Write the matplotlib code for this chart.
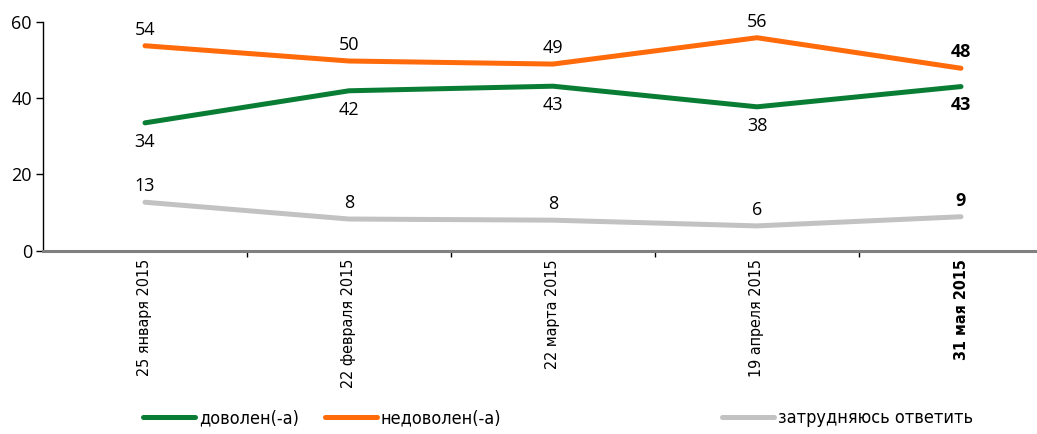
import matplotlib.pyplot as plt
import numpy as np

#Data
dates = ["25 января 2015", "22 февраля 2015", "22 марта 2015", "19 апреля 2015", "31 мая 2015"]
satisfied = [33.5, 41.9, 43.1, 37.7, 43.0]
satisfied_labels = ["34", "42", "43", "38", "43"]
unsatisfied = [53.7, 49.7, 48.9, 55.8, 47.8]
unsatisfied_labels = ["54", "50", "49", "56", "48"]
unsure = [12.7, 8.3, 8.0, 6.5, 8.9]
unsure_labels = ["13", "8", "8", "6", "9"]
series_names = ["доволен(-а)", "недоволен(-а)", "затрудняюсь ответить"]

green = "#0a7d35"
orange = "#ff6a0a"
grey = "#c2c2c2"
num_font = "Open Sans"
txt_font = ["Liberation Sans Narrow", "DejaVu Sans"]

fig = plt.figure(figsize=(10.37, 4.34), dpi=100)
ax = fig.add_axes([43/1037, 1 - 250.7/434, 1020/1037, (250.7 - 21.7)/434])
x = np.arange(len(dates))

lines = []
for vals, labs, col, above in [(satisfied, satisfied_labels, green, False),
                               (unsatisfied, unsatisfied_labels, orange, True),
                               (unsure, unsure_labels, grey, True)]:
    ln, = ax.plot(x, vals, color=col, linewidth=3.6, solid_capstyle="round")
    lines.append(ln)
    for i, (v, s) in enumerate(zip(vals, labs)):
        last = i == len(vals) - 1
        ax.annotate(s, (i, v), xytext=(0, 5 if above else -7), textcoords="offset points",
                    ha="center", va="bottom" if above else "top", fontsize=13,
                    family=num_font, fontweight="bold" if last else "normal")

#Axes styling
ax.set_xlim(-0.5, 4.5)
ax.set_ylim(0, 60)
ax.set_yticks([0, 20, 40, 60])
ax.set_yticklabels(["0", "20", "40", "60"], family=num_font, fontsize=13)
ax.tick_params(axis="y", direction="out", length=5, width=1, pad=3)
ax.set_xticks(x)
ax.set_xticklabels(dates, rotation=90, va="top", ha="center", family=txt_font,
                   fontstretch="condensed", fontsize=11.5)
ax.get_xticklabels()[-1].set_fontweight("bold")
ax.set_xticks(np.arange(0.5, 4.5, 1), minor=True)
ax.tick_params(axis="x", which="major", length=0, pad=6)
ax.tick_params(axis="x", which="minor", direction="out", length=4, width=1, color="black")
for s in ["top", "right"]:
    ax.spines[s].set_visible(False)
ax.spines["left"].set_color("black")
ax.spines["left"].set_linewidth(1)
ax.spines["bottom"].set_color("#808080")
ax.spines["bottom"].set_linewidth(2.2)

#Legend, three separate entries
positions = [143/1037, 325/1037, 722/1037]
for ln, name, px in zip(lines, series_names, positions):
    leg = fig.legend([ln], [name], loc="center left", bbox_to_anchor=(px, 1 - 418/434),
                     frameon=False, handlelength=2.9, handletextpad=0.2, borderaxespad=0,
                     borderpad=0, prop={"family": txt_font, "size": 13, "stretch": "condensed"})

fig.savefig("out.png", dpi=100)
